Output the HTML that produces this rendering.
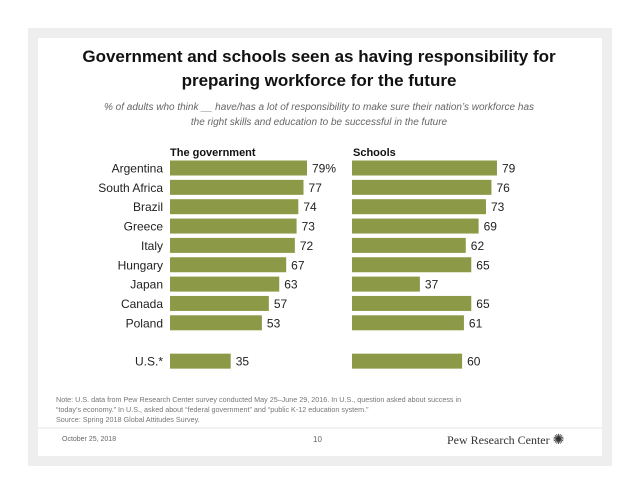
<!DOCTYPE html>
<html><head><meta charset="utf-8"><style>
body{margin:0;width:638px;height:493px;background:#fff;position:relative;overflow:hidden;font-family:"Liberation Sans",Arial,sans-serif}
.frame{position:absolute;left:28px;top:28px;width:584px;height:438px;background:#eeeeee}
.slide{position:absolute;left:38px;top:38px;width:564px;height:418px;background:#fff}
.t{position:absolute;white-space:nowrap}
</style></head><body>
<div class="frame"></div>
<div class="slide"></div>
<div class="t" style="left:0;width:638px;top:45px;text-align:center;font-weight:bold;font-size:17px;line-height:24px;color:#111">Government and schools seen as having responsibility for<br>preparing workforce for the future</div>
<div class="t" style="left:0;width:638px;top:100px;text-align:center;font-style:italic;font-size:10px;line-height:15px;color:#666">% of adults who think __ have/has a lot of responsibility to make sure their nation’s workforce has<br>the right skills and education to be successful in the future</div>
<svg id="chart" width="638" height="493" style="position:absolute;left:0;top:0"></svg>
<div class="t" style="left:56px;top:395px;font-size:7.2px;line-height:10px;color:#777">Note: U.S. data from Pew Research Center survey conducted May 25–June 29, 2016. In U.S., question asked about success in<br>“today’s economy.” In U.S., asked about “federal government” and “public K-12 education system.”<br>Source: Spring 2018 Global Attitudes Survey.</div>
<div style="position:absolute;left:38px;top:427px;width:564px;height:2px;background:#f2f2f2"></div>
<div class="t" style="left:62px;top:436px;font-size:7px;color:#666">October 25, 2018</div>
<div class="t" style="left:313px;top:435px;font-size:8px;color:#666">10</div>
<div class="t" style="left:447px;top:432px;font-family:'Liberation Serif',serif;font-size:12px;color:#333">Pew Research Center <span style="font-size:14px">✺</span></div>
<script>
const countries=["Argentina","South Africa","Brazil","Greece","Italy","Hungary","Japan","Canada","Poland","U.S.*"];
const govValues=[79,77,74,73,72,67,63,57,53,35];
const schoolValues=[79,76,73,69,62,65,37,65,61,60];
const svg=document.getElementById('chart');
const NS='http://www.w3.org/2000/svg';
function rowY(i){return 168+i*19.35+(i>=9?19:0);}
function govX(v){return 170+v*1.734;}
function schX(v){return 352+v*1.835;}
function mk(tag,attrs,txt){const e=document.createElementNS(NS,tag);for(const k in attrs)e.setAttribute(k,attrs[k]);if(txt!==undefined)e.textContent=txt;svg.appendChild(e);return e;}
let h=mk('text',{x:170,y:156,'font-size':11,'font-weight':'bold',fill:'#111'},'The government');


h=mk('text',{x:353,y:156,'font-size':11,'font-weight':'bold',fill:'#111'},'Schools');


countries.forEach((c,i)=>{
 const y=rowY(i);
 let l=mk('text',{x:163,y:y+4.5,'text-anchor':'end','font-size':12,fill:'#222'},c);
 
 
 let b=mk('rect',{x:170,y:y-7.5,width:govX(govValues[i])-170,height:15,fill:'#8c9a48'});
 
 
 let v=mk('text',{x:govX(govValues[i])+5,y:y+4.5,'font-size':12,fill:'#222'},govValues[i]+(i===0?'%':''));
 
 
 b=mk('rect',{x:352,y:y-7.5,width:schX(schoolValues[i])-352,height:15,fill:'#8c9a48'});
 
 
 v=mk('text',{x:schX(schoolValues[i])+5,y:y+4.5,'font-size':12,fill:'#222'},schoolValues[i]);
 
 
});
</script>
</body></html>
